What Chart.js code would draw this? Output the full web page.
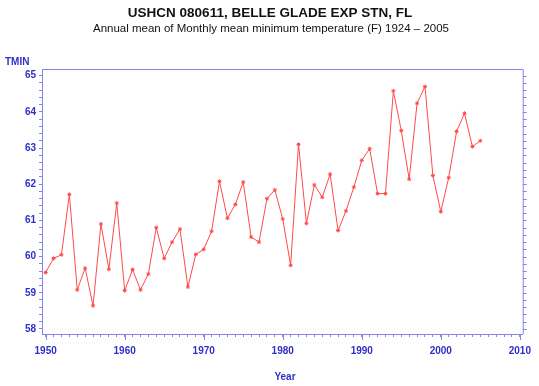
<!DOCTYPE html>
<html>
<head>
<meta charset="utf-8">
<script src="https://cdn.jsdelivr.net/npm/chart.js@4"></script>
<style>
  html, body { margin: 0; padding: 0; background: #fff; }
  #wrap { width: 539px; height: 386px; }
</style>
</head>
<body>
<div id="wrap"><canvas id="tminChart" width="539" height="386"></canvas></div>
<script>
// Data
const years = [1950, 1951, 1952, 1953, 1954, 1955, 1956, 1957, 1958, 1959,
               1960, 1961, 1962, 1963, 1964, 1965, 1966, 1967, 1968, 1969,
               1970, 1971, 1972, 1973, 1974, 1975, 1976, 1977, 1978, 1979,
               1980, 1981, 1982, 1983, 1984, 1985, 1986, 1987, 1988, 1989,
               1990, 1991, 1992, 1993, 1994, 1995, 1996, 1997, 1998, 1999,
               2000, 2001, 2002, 2003, 2004, 2005];
const tmin = [59.56, 59.95, 60.05, 61.72, 59.08, 59.68, 58.64, 60.90, 59.65, 61.48,
              59.06, 59.64, 59.08, 59.52, 60.80, 59.95, 60.40, 60.76, 59.16, 60.06,
              60.20, 60.70, 62.08, 61.06, 61.44, 62.06, 60.54, 60.40, 61.60, 61.84,
              61.04, 59.76, 63.10, 60.92, 61.98, 61.64, 62.28, 60.72, 61.26, 61.92,
              62.66, 62.98, 61.74, 61.74, 64.58, 63.48, 62.14, 64.24, 64.70, 62.24,
              61.24, 62.18, 63.46, 63.96, 63.04, 63.20];
const yTicks = [58, 59, 60, 61, 62, 63, 64, 65];
const xTicks = [1950, 1960, 1970, 1980, 1990, 2000, 2010];

const titleText = 'USHCN 080611, BELLE GLADE EXP STN, FL';
const subtitleText = 'Annual mean of Monthly mean minimum temperature (F) 1924 \u2013 2005';

const axisColor = '#8686ea';
const labelColor = '#2f2fc8';
const lineColor = '#ff4a4a';

// frame, extra ticks and the texts around the plot
const framePlugin = {
    id: 'frame',
    afterDraw(chart) {
        const { ctx, chartArea: a, scales } = chart;
        ctx.save();
        ctx.strokeStyle = axisColor;
        ctx.lineWidth = 1;
        ctx.beginPath();
        ctx.moveTo(a.left, a.top + 0.5);
        ctx.lineTo(a.right + 0.5, a.top + 0.5);
        ctx.lineTo(a.right + 0.5, a.bottom);
        ctx.stroke();

        // ticks on the right side
        ctx.beginPath();
        scales.y.ticks.forEach(t => {
            const y = Math.round(scales.y.getPixelForValue(t.value)) + 0.5;
            ctx.moveTo(a.right, y);
            ctx.lineTo(a.right + 4, y);
        });
        // longer major ticks on the x axis
        xTicks.forEach(v => {
            const x = Math.round(scales.x.getPixelForValue(v)) + 0.5;
            ctx.moveTo(x, a.bottom);
            ctx.lineTo(x, a.bottom + 6);
        });
        ctx.stroke();

        ctx.textAlign = 'center';
        ctx.textBaseline = 'middle';
        ctx.fillStyle = '#111';
        ctx.font = 'bold 13.5px "Liberation Sans", Arial, sans-serif';
        ctx.fillText(titleText, 270, 13);
        ctx.font = '11.5px "Liberation Sans", Arial, sans-serif';
        ctx.fillText(subtitleText, 271, 29);

        ctx.fillStyle = labelColor;
        ctx.font = 'bold 10px "Liberation Sans", Arial, sans-serif';
        ctx.textAlign = 'left';
        ctx.fillText('TMIN', 5, 62);
        ctx.textAlign = 'center';
        ctx.fillText('Year', 285, 377);
        ctx.restore();
    }
};

document.addEventListener('DOMContentLoaded', function () {
    const ctx = document.getElementById('tminChart').getContext('2d');
    new Chart(ctx, {
        type: 'line',
        data: {
            datasets: [{
                label: 'TMIN',
                data: years.map((yr, i) => ({ x: yr, y: tmin[i] })),
                borderColor: lineColor,
                borderWidth: 1,
                backgroundColor: lineColor,
                pointStyle: 'star',
                pointRadius: 2,
                pointBorderWidth: 1,
                pointBorderColor: lineColor,
                tension: 0
            }]
        },
        options: {
            responsive: false,
            animation: false,
            events: [],
            layout: { padding: { left: 0, right: 9, top: 69, bottom: 0 } },
            plugins: {
                legend: { display: false },
                tooltip: { enabled: false },
                title: { display: false }
            },
            scales: {
                x: {
                    type: 'linear',
                    min: 1949.54,
                    max: 2010.37,
                    afterBuildTicks: scale => {
                        const t = [];
                        for (let v = 1950; v <= 2010; v++) t.push({ value: v });
                        scale.ticks = t;
                    },
                    afterFit: scale => { scale.height = 52; },
                    ticks: {
                        autoSkip: false,
                        maxRotation: 0,
                        padding: 8,
                        color: labelColor,
                        font: { family: '"Liberation Sans", Arial, sans-serif', size: 10, weight: 'bold' },
                        callback: v => (xTicks.includes(v) ? String(v) : '')
                    },
                    grid: { drawOnChartArea: false, drawTicks: true, tickLength: 3, color: axisColor },
                    border: { color: axisColor, width: 1 }
                },
                y: {
                    min: 57.86,
                    max: 65.185,
                    afterBuildTicks: scale => {
                        const t = [];
                        for (let k = 0; k <= 35; k++) t.push({ value: 58 + k * 0.2 });
                        scale.ticks = t;
                    },
                    afterFit: scale => { scale.width = 42; },
                    ticks: {
                        autoSkip: false,
                        padding: 3,
                        color: labelColor,
                        font: { family: '"Liberation Sans", Arial, sans-serif', size: 10, weight: 'bold' },
                        callback: v => {
                            const r = Math.round(v);
                            return Math.abs(v - r) < 1e-6 && yTicks.includes(r) ? String(r) : '';
                        }
                    },
                    grid: { drawOnChartArea: false, drawTicks: true, tickLength: 3, color: axisColor },
                    border: { color: axisColor, width: 1 }
                }
            }
        },
        plugins: [framePlugin]
    });
});
</script>
</body>
</html>
